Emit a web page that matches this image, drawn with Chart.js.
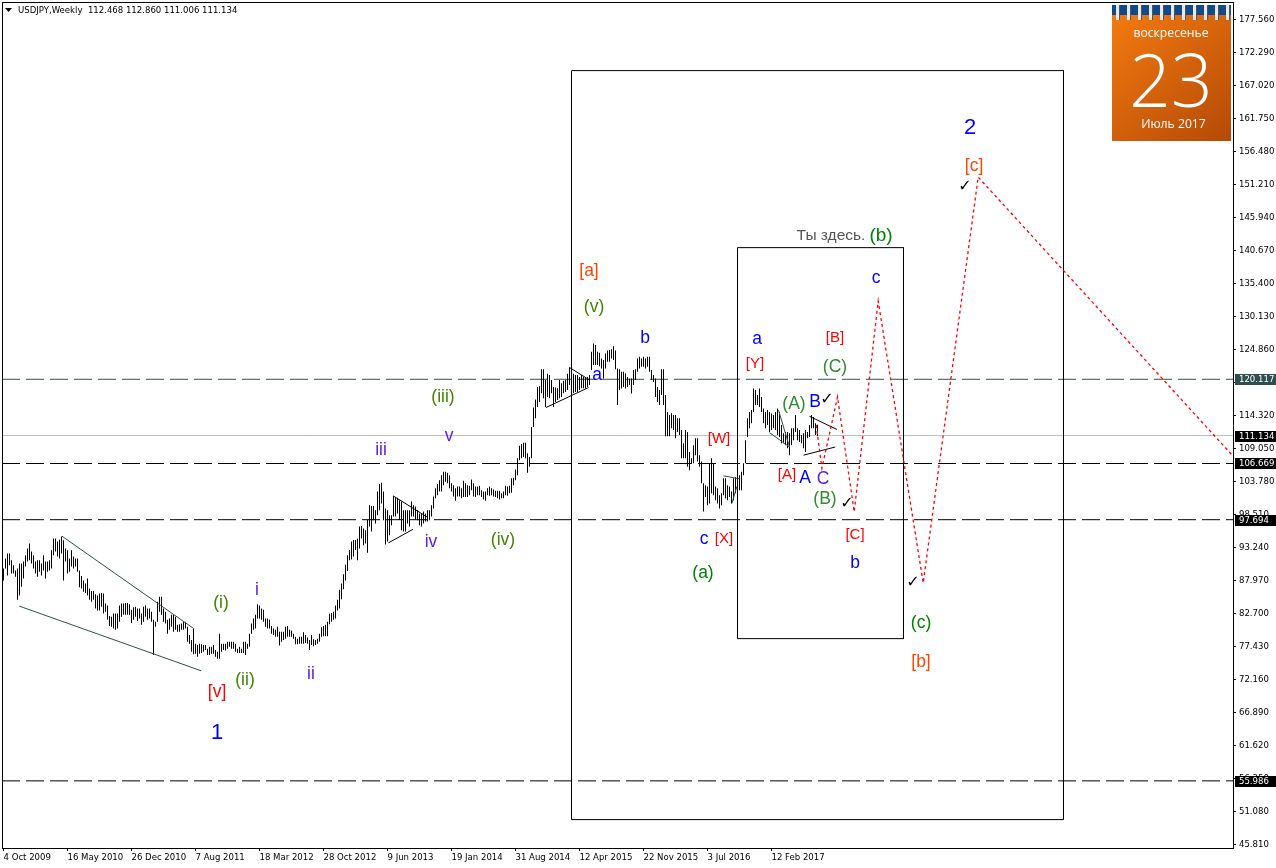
<!DOCTYPE html>
<html>
<head>
<meta charset="utf-8">
<title>USDJPY,Weekly</title>
<script src="https://cdn.jsdelivr.net/npm/chart.js@4"></script>
<style>
    html, body { margin: 0; padding: 0; background: #fff; }
    canvas { display: block; }
</style>
</head>
<body>
<canvas id="chart" width="1276" height="868"></canvas>
<script>
// weekly highs / lows, 10 bars per row
const weekHighs = [
    89.9,91.5,92.3,92.3,91.2,90.4,89.6,89.9,90.7,90.7,
    91.0,92.0,93.1,93.9,92.6,92.0,91.0,91.2,91.2,90.7,
    92.0,91.0,91.0,91.2,92.8,94.7,94.7,94.2,94.5,95.0,
    94.4,93.1,92.8,91.5,92.8,91.8,91.5,91.5,89.6,88.7,
    88.0,87.5,88.3,86.7,86.3,86.3,85.8,85.6,85.9,86.0,
    85.9,84.3,84.0,82.3,82.2,82.7,82.7,82.7,84.0,84.3,
    84.3,84.4,84.4,84.2,83.3,83.7,83.8,83.5,83.5,82.7,
    83.8,84.0,83.5,83.5,83.0,81.7,81.4,84.6,85.4,85.4,
    83.5,83.0,81.7,81.9,82.5,82.5,82.2,80.9,81.0,81.1,
    81.4,81.4,80.6,79.3,78.5,80.3,77.9,77.7,77.9,77.8,
    77.7,77.7,77.1,77.4,77.4,77.7,76.9,76.6,79.5,77.9,
    77.9,77.9,78.2,78.2,78.2,78.2,77.9,77.1,77.4,77.1,
    78.2,78.2,77.9,79.5,81.1,81.9,82.5,84.2,84.0,83.5,
    83.3,81.9,81.9,81.7,80.7,80.3,80.1,80.6,79.8,79.8,
    79.8,80.6,80.7,80.1,80.0,79.5,79.0,78.7,79.0,79.0,
    79.7,79.3,78.9,78.5,79.3,78.6,78.5,78.7,79.5,80.5,
    80.7,80.9,81.4,82.7,82.8,83.0,84.0,84.9,86.5,87.5,
    89.0,90.5,92.0,92.85,94.2,94.45,94.45,94.7,96.6,96.7,
    96.3,96.0,97.7,100.0,99.9,99.9,99.2,102.2,103.4,103.6,
    102.2,99.5,99.2,98.4,98.4,101.5,101.2,101.2,100.8,100.6,
    99.2,99.2,99.2,99.2,100.6,100.0,99.8,99.2,98.7,98.7,
    99.0,98.7,99.2,99.2,100.0,101.4,102.7,103.4,104.0,104.8,
    105.35,105.35,105.2,104.8,103.5,103.2,102.7,103.0,103.0,102.7,
    103.9,103.5,103.2,103.1,104.1,103.5,103.0,103.0,103.1,102.4,
    102.2,102.2,102.7,103.0,102.7,102.5,102.3,102.3,102.3,101.9,
    102.2,103.1,103.0,103.1,104.3,104.4,105.7,107.5,109.5,109.8,
    110.0,110.0,108.3,107.7,112.5,115.6,116.9,118.9,119.0,121.7,
    121.7,120.0,121.0,120.8,120.0,118.9,118.8,118.7,120.0,119.5,
    119.9,120.0,121.0,122.0,121.85,121.0,120.8,120.8,120.5,120.8,
    120.5,120.5,120.5,120.8,124.5,125.84,125.6,124.5,124.35,123.45,
    123.2,124.25,124.7,124.8,124.9,125.4,124.7,121.85,121.7,121.3,
    121.3,121.05,120.5,120.25,120.25,121.6,121.7,123.45,123.7,123.45,
    123.7,123.45,123.7,123.7,121.6,120.8,120.25,118.9,118.4,121.7,
    121.7,117.6,114.9,114.4,114.7,114.4,114.4,113.9,113.9,112.0,
    109.9,112.0,111.7,108.5,107.5,109.6,110.7,110.7,108.0,107.0,
    103.5,103.2,103.0,106.7,107.5,106.7,103.0,102.7,101.6,101.9,
    104.3,104.3,103.2,103.0,102.2,104.3,104.5,104.5,104.8,105.35,
    106.7,110.4,113.9,114.9,115.2,118.65,118.4,117.6,118.65,117.3,
    115.45,114.9,115.2,114.9,114.65,114.4,114.9,115.45,114.9,112.8,
    111.5,111.7,111.7,111.5,112.3,112.3,114.4,112.3,112.0,111.2,
    111.5,112.0,111.7,112.8,114.4,114.1,113.1,112.86
];
const weekLows = [
    88.0,89.9,88.8,90.4,89.1,89.1,88.6,84.9,85.6,87.0,
    88.3,90.2,91.0,91.2,90.7,89.9,89.1,88.6,89.4,88.8,
    89.6,88.3,89.4,89.6,89.9,92.0,92.6,91.8,91.5,92.3,
    88.0,91.0,89.1,89.4,90.2,89.9,90.2,89.4,86.9,86.7,
    86.2,86.0,85.6,84.9,84.6,84.9,83.5,83.2,83.2,83.8,
    82.7,83.0,81.7,80.7,80.6,80.3,80.1,80.3,81.4,82.2,
    82.5,82.5,82.5,82.5,81.2,81.7,82.2,81.5,81.9,80.9,
    81.4,82.2,81.7,81.9,81.4,76.1,80.6,81.4,83.0,82.5,
    81.4,81.1,79.5,80.1,80.6,79.8,80.1,79.8,79.8,80.1,
    80.1,80.3,78.2,77.9,76.6,76.2,76.3,75.8,76.3,76.4,
    76.6,76.9,76.1,76.1,76.3,76.3,75.8,75.5,75.5,76.6,
    76.9,76.8,77.1,77.4,77.1,77.1,76.6,76.4,76.4,76.4,
    76.4,76.1,77.1,77.4,79.5,80.1,80.3,81.9,81.9,81.7,
    81.4,80.6,80.3,80.3,79.5,79.3,79.0,79.0,77.6,78.2,
    78.5,78.7,79.0,79.0,79.0,78.7,77.8,77.8,77.9,77.9,
    77.9,78.0,77.9,76.9,77.7,77.5,77.7,77.9,78.2,79.0,
    79.1,79.1,79.1,81.0,81.4,81.7,81.9,83.2,83.5,85.0,
    86.6,88.0,89.5,91.2,91.35,91.8,92.85,91.2,93.1,94.7,
    93.6,93.9,92.4,96.6,95.8,97.6,97.1,98.4,99.2,100.3,
    97.6,93.75,94.2,95.2,96.8,98.2,98.2,98.7,97.7,96.0,
    95.8,95.8,97.1,96.6,98.2,98.2,97.7,97.6,96.8,96.6,
    97.1,97.4,97.4,97.6,98.2,99.5,101.1,101.6,102.2,102.2,
    103.2,103.75,103.5,102.7,102.2,101.4,100.7,101.4,101.4,101.1,
    101.3,101.3,101.3,101.6,102.4,101.4,101.3,101.6,101.6,101.3,
    100.9,100.7,101.6,101.5,101.6,101.4,101.3,101.1,100.9,101.1,
    101.1,101.6,101.5,101.9,102.0,103.2,104.0,104.8,107.2,107.5,
    107.7,107.5,105.2,106.2,107.5,112.5,113.9,115.7,116.5,117.9,
    117.1,115.7,117.3,117.1,117.9,115.7,116.5,116.8,117.1,117.3,
    117.9,118.1,118.4,119.2,118.1,117.9,118.1,118.1,118.4,118.7,
    118.7,118.7,118.9,119.2,121.6,122.4,122.4,122.4,122.2,121.85,
    120.25,121.85,122.9,122.9,123.45,123.2,121.7,116.0,118.4,118.65,
    118.9,118.65,118.9,119.2,117.85,119.2,120.0,121.3,121.85,122.1,
    122.1,121.85,122.1,121.3,120.0,119.7,117.3,116.5,116.0,117.6,
    116.0,111.0,111.0,111.0,112.3,112.0,110.7,111.7,111.2,107.5,
    107.5,107.5,106.15,105.6,106.7,106.7,108.0,107.0,106.15,103.5,
    99.0,101.3,100.0,100.3,101.9,101.6,100.8,100.3,99.5,100.0,
    101.6,101.1,100.8,101.3,100.3,100.8,101.9,102.7,102.4,102.4,
    104.8,106.7,110.9,112.3,113.1,114.9,116.0,116.0,115.7,114.9,
    113.1,112.3,112.8,111.7,112.0,112.3,112.0,111.2,110.9,109.9,
    109.9,109.6,109.1,108.0,109.6,110.4,111.7,110.4,110.1,109.9,
    109.1,108.5,110.7,110.9,112.3,112.3,111.2,111.006
];

const dateTickLabels = ['4 Oct 2009', '16 May 2010', '26 Dec 2010', '7 Aug 2011', '18 Mar 2012', '28 Oct 2012',
    '9 Jun 2013', '19 Jan 2014', '31 Aug 2014', '12 Apr 2015', '22 Nov 2015', '3 Jul 2016', '12 Feb 2017'];
const priceTicks = [177.56, 172.29, 167.02, 161.75, 156.48, 151.21, 145.94, 140.67, 135.40, 130.13, 124.86, 119.59,
    114.32, 109.05, 103.78, 98.51, 93.24, 87.97, 82.70, 77.43, 72.16, 66.89, 61.62, 56.35, 51.08, 45.81];

// horizontal levels
const levelPrices = [120.117, 106.669, 97.694, 55.986];
const lastPrice = 111.134;

// projected path, bar index / price
const pathBars = [406.35, 409.2, 417, 425.35, 437.35, 459.85, 487.35, 614.35];
const pathPrices = [112.8, 105.9, 117.3, 98.95, 132.6, 87.6, 152.4, 108];

// drawn boxes: [bar from, bar to, price top, price bottom]
const outerBox = [284, 530, 169.41, 49.8];
const innerBox = [367, 450, 141.14, 78.7];

// trend lines: [bar, price, bar, price]
const slateLines = [
    [29.2, 95.07, 95, 80.33],
    [7.85, 83.9, 98.85, 73.56],
    [360, 104.7, 368.4, 104.2],
    [364.2, 100.3, 366.7, 103],
    [387.5, 115.2, 393, 109.3],
    [383, 111.6, 393, 109.3]
];
const blackLines = [
    [195, 101.46, 211.7, 98.15],
    [192.5, 94, 204.7, 96.15],
    [271.2, 115.6, 292.5, 118.8],
    [283, 122, 293, 120],
    [403, 114.2, 416.7, 112.1],
    [400, 108, 415.85, 109.3]
];

const RED = '#ff0000', ORANGE = '#ff4500', BLUE = '#0000ff', VIOLET = '#5a1ee6', OLIVE = '#3f8500', GREEN = '#008000', SEA = '#2e8b2e';
const waveLabels = [
    ['1', 217, 733, BLUE, 22], ['2', 970, 128, BLUE, 22],
    ['[a]', 589, 271, ORANGE], ['[c]', 974, 166, ORANGE], ['[b]', 921, 662, ORANGE],
    ['(v)', 594, 307, OLIVE], ['(iii)', 443, 397, OLIVE], ['(iv)', 503, 540, OLIVE], ['(i)', 221, 603, OLIVE], ['(ii)', 245, 680, OLIVE],
    ['b', 645, 338, BLUE], ['a', 597, 375, BLUE], ['a', 757, 339, BLUE], ['c', 876, 278, BLUE], ['c', 704, 539, BLUE],
    ['b', 855, 563, BLUE], ['B', 815, 402, BLUE], ['A', 805, 478, BLUE], ['C', 823, 479, VIOLET],
    ['iii', 381, 450, VIOLET], ['v', 449, 436, VIOLET], ['iv', 431, 542, VIOLET], ['i', 257, 590, VIOLET], ['ii', 311, 674, VIOLET],
    ['[W]', 719, 439, RED, 15], ['[Y]', 755, 364, RED, 15], ['[B]', 835, 338, RED, 15], ['[X]', 724, 539, RED, 15], ['[A]', 787, 475, RED, 15],
    ['[C]', 855, 535, RED, 15], ['[v]', 217, 692, RED],
    ['(A)', 794, 404, SEA], ['(C)', 835, 367, SEA], ['(B)', 825, 499, SEA], ['(a)', 703, 573, GREEN], ['(c)', 921, 623, GREEN],
    ['(b)', 881, 236, GREEN, 19], ['Ты здесь.', 831, 236, '#555555', 15.5]
];
const checkMarks = [[827, 400], [847, 504], [913, 583], [965, 187]];

const AXIS_FONT = '"DejaVu Sans Condensed", "DejaVu Sans", sans-serif';

function segment(line, color, order) {
    return {
        type: 'line',
        data: [{ x: line[0], y: line[1] }, { x: line[2], y: line[3] }],
        borderColor: color, borderWidth: 1, pointRadius: 0, order: order
    };
}

function box(b) {
    return {
        type: 'line',
        data: [{ x: b[0], y: b[2] }, { x: b[1], y: b[2] }, { x: b[1], y: b[3] }, { x: b[0], y: b[3] }, { x: b[0], y: b[2] }],
        borderColor: '#000', borderWidth: 1, pointRadius: 0, order: 1
    };
}

function level(price, color, dash) {
    return {
        type: 'line',
        data: [{ x: -0.75, y: price }, { x: 614.75, y: price }],
        borderColor: color, borderWidth: 1, borderDash: dash, pointRadius: 0, order: 5
    };
}

const datasets = [
    {
        type: 'bar',
        data: weekHighs.map((h, i) => ({ x: i, y: [weekLows[i], h] })),
        backgroundColor: '#000', barThickness: 1, borderWidth: 0, inflateAmount: 0, grouped: false, order: 3
    },
    level(lastPrice, '#c0c0c0', []),
    box(outerBox),
    box(innerBox),
    {
        type: 'line',
        data: pathBars.map((b, i) => ({ x: b, y: pathPrices[i] })),
        borderColor: RED, borderWidth: 1.3, borderDash: [3, 3], pointRadius: 0, order: 0
    }
];
levelPrices.forEach((p, i) => datasets.push(level(p, i === 0 ? '#2f4f4f' : '#000', [18, 6])));
slateLines.forEach(l => datasets.push(segment(l, '#2f4f4f', 2)));
blackLines.forEach(l => datasets.push(segment(l, '#000', 2)));

function drawCalendar(ctx) {
    const x = 1112, y = 5, w = 119, h = 136;
    const body = ctx.createLinearGradient(x, y, x + w, y + h);
    body.addColorStop(0, '#f67c10');
    body.addColorStop(1, '#b44a06');
    ctx.fillStyle = body;
    ctx.fillRect(x, y, w, h);
    ctx.fillStyle = '#0f4a8c';
    ctx.fillRect(x, y, w, 10);
    for (let r = 0; r < 11; r++) {
        const rx = x + 4 + r * 11;
        ctx.fillStyle = '#e8e8e8';
        ctx.fillRect(rx, y, 3, 15);
        ctx.fillStyle = '#555';
        ctx.fillRect(rx + 3, y, 1, 15);
    }
    ctx.fillStyle = '#fff';
    ctx.textAlign = 'center';
    ctx.textBaseline = 'middle';
    ctx.font = '12.2px "Open Sans", sans-serif';
    ctx.fillText('воскресенье', 1171, 34);
    ctx.fillText('Июль 2017', 1173.5, 125);
    ctx.textBaseline = 'alphabetic';
    ctx.font = '300 73px "Open Sans", sans-serif';
    ctx.fillText('23', 1171, 107);
}

const overlayPlugin = {
    id: 'overlay',
    afterDraw(chart) {
        const ctx = chart.ctx;
        const yScale = chart.scales.y;
        ctx.save();

        // frame left and top of the plot
        ctx.fillStyle = '#000';
        ctx.fillRect(2, 2, 1232, 1);
        ctx.fillRect(2, 2, 1, 846);

        // header
        ctx.beginPath();
        ctx.moveTo(5, 8);
        ctx.lineTo(12, 8);
        ctx.lineTo(8.5, 12);
        ctx.closePath();
        ctx.fill();
        ctx.textAlign = 'left';
        ctx.textBaseline = 'middle';
        ctx.font = '9.5px ' + AXIS_FONT;
        ctx.fillText('USDJPY,Weekly  112.468 112.860 111.006 111.134', 18, 10.5);

        // wave labels
        ctx.textAlign = 'center';
        waveLabels.forEach(l => {
            ctx.font = (l[4] || 17.5) + 'px "Liberation Sans", Arial, sans-serif';
            ctx.fillStyle = l[3];
            ctx.fillText(l[0], l[1], l[2]);
        });
        ctx.font = 'bold 16px "DejaVu Sans", sans-serif';
        ctx.fillStyle = '#000';
        checkMarks.forEach(c => ctx.fillText('✓', c[0], c[1]));

        // price boxes on the axis
        ctx.font = '9.5px ' + AXIS_FONT;
        ctx.textAlign = 'left';
        levelPrices.concat([lastPrice]).forEach((p, i) => {
            const py = yScale.getPixelForValue(p);
            ctx.fillStyle = i === 0 ? '#2f4f4f' : '#000';
            ctx.fillRect(1235, Math.round(py) - 5, 41, 11);
            ctx.fillStyle = '#fff';
            ctx.fillText(p.toFixed(3), 1239, Math.round(py) + 0.5);
        });

        drawCalendar(ctx);
        ctx.restore();
    }
};

new Chart(document.getElementById('chart'), {
    type: 'bar',
    data: { datasets: datasets },
    plugins: [overlayPlugin],
    options: {
        responsive: false,
        animation: false,
        layout: { padding: { left: 2, top: 2, right: 0, bottom: 0 } },
        plugins: { legend: { display: false }, tooltip: { enabled: false } },
        scales: {
            x: {
                type: 'linear',
                offset: false,
                min: -0.75,
                max: 614.75,
                grid: { offset: false, drawOnChartArea: false, tickLength: 3, color: '#000' },
                border: { color: '#000' },
                afterBuildTicks: s => { s.ticks = dateTickLabels.map((d, i) => ({ value: i * 32 })); },
                afterFit: s => { s.height = 20; s.paddingLeft = 0; s.paddingRight = 0; },
                ticks: {
                    autoSkip: false, maxRotation: 0, align: 'start', padding: 1, color: '#000',
                    font: { family: AXIS_FONT, size: 9.5 },
                    callback: v => dateTickLabels[v / 32]
                }
            },
            y: {
                position: 'right',
                min: 45.266,
                max: 180.366,
                grid: { drawOnChartArea: false, tickLength: 3, color: '#000' },
                border: { color: '#000' },
                afterBuildTicks: s => { s.ticks = priceTicks.map(v => ({ value: v })); },
                afterFit: s => { s.width = 43; s.paddingTop = 0; s.paddingBottom = 0; },
                ticks: {
                    autoSkip: false, padding: 3, color: '#000',
                    font: { family: AXIS_FONT, size: 9.5 },
                    callback: v => v.toFixed(3)
                }
            }
        }
    }
});
</script>
</body>
</html>
